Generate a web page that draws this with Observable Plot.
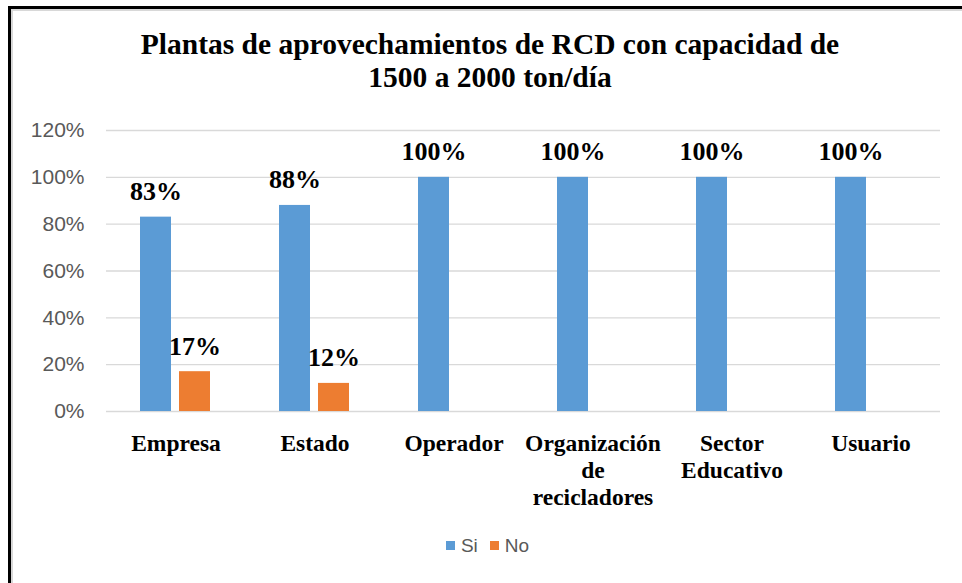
<!DOCTYPE html>
<html><head><meta charset="utf-8">
<script src="https://cdn.jsdelivr.net/npm/d3@7"></script>
<script src="https://cdn.jsdelivr.net/npm/@observablehq/plot@0.6"></script>
<style>
html,body{margin:0;padding:0;background:#fff;width:962px;height:583px;overflow:hidden;position:relative;}
#frame{position:absolute;left:8px;top:6px;width:1000px;height:700px;border-left:3px solid #000;border-top:3px solid #000;box-shadow:inset 2px 2px 0 #d8d8d8;z-index:10;pointer-events:none;}
#title{position:absolute;left:0;top:28px;width:980px;text-align:center;font-family:"Liberation Serif",serif;font-weight:bold;font-size:29.5px;line-height:33px;color:#000;}
#chart{position:absolute;left:0;top:120px;}
#legend{position:absolute;left:0;top:535px;width:975px;text-align:center;font-family:"Liberation Sans",sans-serif;font-size:19px;color:#595959;}
#legend .sw{display:inline-block;width:9px;height:9px;margin-right:6px;vertical-align:middle;position:relative;top:-1px;}
#legend .it{margin:0 6px;}
</style></head>
<body>
<div id="title">Plantas de aprovechamientos de RCD con capacidad de<br>1500 a 2000 ton/día</div>
<div id="chart"></div>
<div id="legend"></div>
<div id="frame"></div>
<script>
const categories = ["Empresa","Estado","Operador","Organización de recicladores","Sector Educativo","Usuario"];
const tickLabels = ["Empresa","Estado","Operador","Organización\nde\nrecicladores","Sector\nEducativo","Usuario"];
const series = ["Si","No"];
const siValues = [0.83,0.88,1,1,1,1];
const noValues = [0.17,0.12,null,null,null,null];
const yTicks = [0,0.2,0.4,0.6,0.8,1,1.2];
const colors = ["#5b9bd5","#ed7d31"];

const rows = [];
categories.forEach((c,i)=>{
  if (siValues[i] != null) rows.push({cat:c, series:"Si", value:siValues[i]});
  if (noValues[i] != null) rows.push({cat:c, series:"No", value:noValues[i]});
});

const pct = d => Math.round(d*100) + "%";

const chart = Plot.plot({
  width: 962, height: 400,
  marginLeft: 104, marginRight: 20, marginTop: 10, marginBottom: 109,
  style: {background:"white", overflow:"visible"},
  fx: {domain: categories, padding: 0, axis: null, label: null},
  x: {domain: series, axis: null, paddingInner: 0.2, paddingOuter: 0.846},
  y: {domain: [0, 1.2], axis: null, label: null},
  color: {domain: series, range: colors},
  marks: [
    Plot.gridY(yTicks, {stroke:"#d9d9d9", strokeOpacity:1, strokeWidth:1.3}),
    Plot.axisY(yTicks, {tickFormat: pct, tickSize:0, tickPadding:22, fontSize:21, fill:"#595959", fontFamily:"Liberation Sans", label:null}),
    Plot.barY(rows, {fx:"cat", x:"series", y:"value", fill:"series"}),
    Plot.text(rows, {fx:"cat", x:"series", y:"value", text: d => pct(d.value), dy:-17, lineAnchor:"bottom", fontSize:26, fontWeight:"bold", fontFamily:"Liberation Serif", fill:"#000"}),
    Plot.axisFx({anchor:"bottom", tickFormat: d => tickLabels[categories.indexOf(d)], tickSize:0, tickPadding:20, fontSize:23.5, fontWeight:"bold", lineAnchor:"top", lineHeight:1.15, fontFamily:"Liberation Serif", fill:"#000", label:null})
  ]
});
document.getElementById("chart").appendChild(chart);

const legend = document.getElementById("legend");
series.forEach((s,i)=>{
  const it = document.createElement("span");
  it.className = "it";
  const sw = document.createElement("span");
  sw.className = "sw";
  sw.style.background = colors[i];
  it.appendChild(sw);
  it.appendChild(document.createTextNode(s));
  legend.appendChild(it);
});
</script>
</body></html>
